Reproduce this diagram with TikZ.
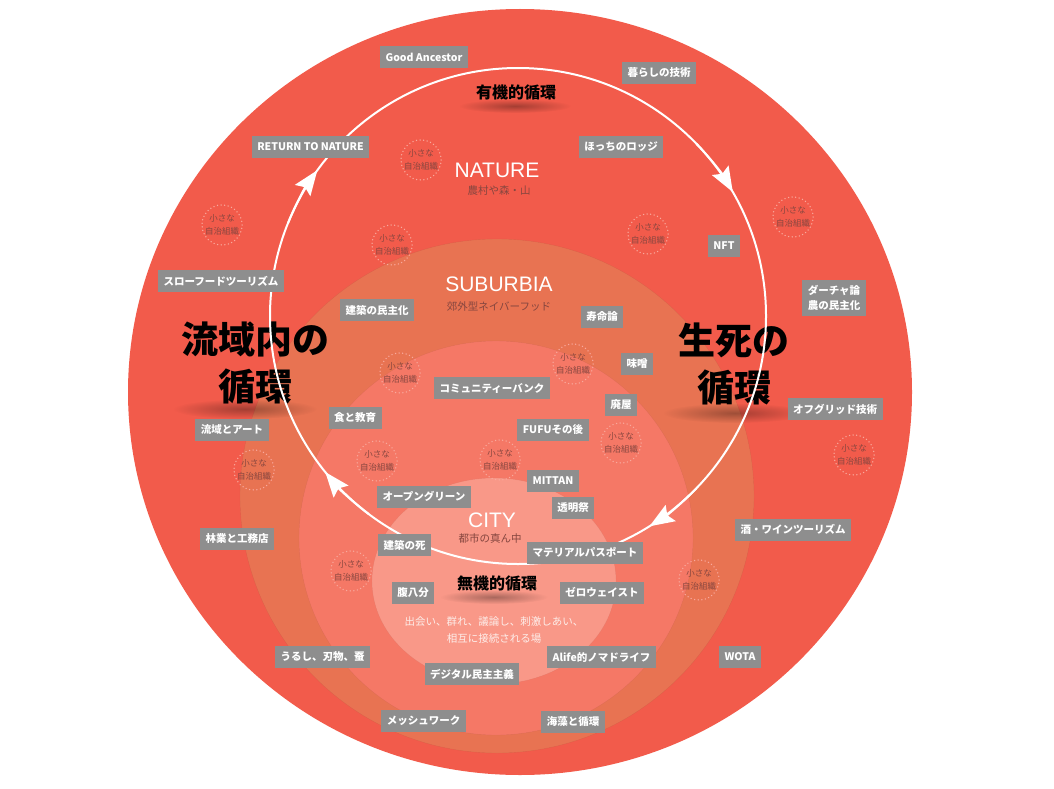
\documentclass[tikz,border=0pt]{standalone}
\usepackage{fontspec}
\setmainfont{Noto Sans CJK JP}
\newfontfamily\zonefont{Liberation Sans}
\usetikzlibrary{arrows.meta,fadings}

\definecolor{outerred}{HTML}{F25B4B}
\definecolor{suburbring}{HTML}{E87352}
\definecolor{innerring}{HTML}{F57866}
\definecolor{citycore}{HTML}{F99888}
\definecolor{tagfill}{HTML}{8E8E8E}
\definecolor{orgtext}{HTML}{86463F}
\definecolor{orgdot}{HTML}{F9A99D}
\definecolor{cityline}{HTML}{FDEDE9}

\tikzfading[name=softspot, inner color=transparent!30, outer color=transparent!100]

\tikzset{
  tag/.style = {fill=tagfill, text=white, font=\bfseries\fontsize{10.5}{15}\selectfont, inner xsep=5.5pt, inner ysep=5pt, minimum height=22pt, align=center},
  org/.style = {circle, draw=orgdot, line width=1.5pt, line cap=round, dash pattern=on 0pt off 3.6pt, minimum size=36pt, inner sep=0pt, text=orgtext, font=\fontsize{8.5}{13.5}\selectfont, align=center},
  zone/.style = {text=white, font=\zonefont\fontsize{21}{24}\selectfont},
  zonesub/.style = {text=orgtext, font=\fontsize{10.5}{12}\selectfont},
  cyclelabel/.style = {font=\bfseries\fontsize{16}{18}\selectfont},
  bigcycle/.style = {font=\bfseries\fontsize{37}{47}\selectfont, align=center},
  shadowspot/.style = {fill=black, opacity=.45, path fading=softspot},
  ringpath/.style = {draw=white, line width=2pt},
  ringtip/.style = {ringpath, -{Stealth[length=25pt, width=19pt, inset=4pt]}}
}

\begin{document}
\begin{tikzpicture}[x=1pt, y=-1pt]
  \useasboundingbox (0,0) rectangle (1054,789);

  % zones
  \fill[outerred] (520,392) ellipse[x radius=392, y radius=383];
  \fill[suburbring, draw=black, draw opacity=.06] (497,496) circle[radius=257];
  \fill[innerring, draw=black, draw opacity=.06] (496,538) circle[radius=197];
  \fill[citycore, draw=black, draw opacity=.05] (494,581) ellipse[x radius=122, y radius=103];

  % shadows under the cycle names
  \fill[shadowspot] (245,409) ellipse[x radius=72, y radius=10];
  \fill[shadowspot] (735,413) ellipse[x radius=72, y radius=10];
  \fill[shadowspot] (515,106) ellipse[x radius=56, y radius=7];
  \fill[shadowspot] (494,597) ellipse[x radius=54, y radius=7];

  \node[bigcycle] (watershed) at (255,363) {流域内の\\循環};
  \node[bigcycle] (lifedeath) at (734,364) {生死の\\循環};

  % the loop
  \coordinate (loopc) at (518,316);
  \draw[ringpath] (loopc) circle[radius=248];
  \draw[ringtip] (loopc) ++(202:248) arc[start angle=202, end angle=216, radius=248];
  \draw[ringtip] (loopc) ++(316:248) arc[start angle=316, end angle=330, radius=248];
  \draw[ringtip] (loopc) ++(44:248) arc[start angle=44, end angle=58, radius=248];
  \draw[ringtip] (loopc) ++(127:248) arc[start angle=127, end angle=141, radius=248];

  \node[cyclelabel] (organic) at (516,92) {有機的循環};
  \node[cyclelabel] (inorganic) at (497,583) {無機的循環};

  % zone names
  \node[zone] (nature) at (497,170) {NATURE};
  \node[zonesub] (naturesub) at (499,191) {農村や森・山};
  \node[zone] (suburbia) at (499,284) {SUBURBIA};
  \node[zonesub] (suburbiasub) at (499,306) {郊外型ネイバーフッド};
  \node[zone] (city) at (492,520) {CITY};
  \node[zonesub] (citysub) at (490,538) {都市の真ん中};
  \node[text=cityline, font=\fontsize{10.5}{17}\selectfont, align=center] (citynote) at (494,630)
    {出会い、群れ、議論し、刺激しあい、\\相互に接続される場};

  % projects
  \node[tag] (ancestor) at (424,57.5) {Good Ancestor};
  \node[tag] (kurashi) at (659,73) {暮らしの技術};
  \node[tag] (return) at (310.5,147) {RETURN TO NATURE};
  \node[tag] (hocchi) at (621,146.5) {ほっちのロッジ};
  \node[tag] (nft) at (724,246) {NFT};
  \node[tag] (slowfood) at (221,281) {スローフードツーリズム};
  \node[tag] (archdemo) at (377,310) {建築の民主化};
  \node[tag] (jumyo) at (602,317) {寿命論};
  \node[tag] (dacha) at (834,298) {ダーチャ論\\農の民主化};
  \node[tag] (miso) at (637,364) {味噌};
  \node[tag] (commbank) at (492,388) {コミュニティーバンク};
  \node[tag] (haioku) at (621,405) {廃屋};
  \node[tag] (offgrid) at (835,409) {オフグリッド技術};
  \node[tag] (food) at (355,418) {食と教育};
  \node[tag] (ryuiki) at (232,430) {流域とアート};
  \node[tag] (fufu) at (553,430) {FUFUその後};
  \node[tag] (mittan) at (553,481) {MITTAN};
  \node[tag] (opengreen) at (424,496.5) {オープングリーン};
  \node[tag] (tomei) at (573,508) {透明祭};
  \node[tag] (sake) at (793,529.5) {酒・ワインツーリズム};
  \node[tag] (ringyo) at (237,538.5) {林業と工務店};
  \node[tag] (archdeath) at (404.5,545) {建築の死};
  \node[tag] (material) at (585,552.5) {マテリアルパスポート};
  \node[tag] (harahachi) at (413,593) {腹八分};
  \node[tag] (zerowaste) at (602,592.5) {ゼロウェイスト};
  \node[tag] (urushi) at (322.5,656.5) {うるし、刃物、蚕};
  \node[tag] (alife) at (601.5,657) {Alife的ノマドライフ};
  \node[tag] (wota) at (740,657) {WOTA};
  \node[tag] (digital) at (472,674) {デジタル民主主義};
  \node[tag] (mesh) at (423.5,721) {メッシュワーク};
  \node[tag] (kaiso) at (573,722) {海藻と循環};

  % small self-governing groups
  \node[org] (org1) at (421,160) {小さな\\自治組織};
  \node[org] (org2) at (222,225) {小さな\\自治組織};
  \node[org] (org3) at (392,245) {小さな\\自治組織};
  \node[org] (org4) at (648,234) {小さな\\自治組織};
  \node[org] (org5) at (793,217) {小さな\\自治組織};
  \node[org] (org6) at (400,373) {小さな\\自治組織};
  \node[org] (org7) at (573,364) {小さな\\自治組織};
  \node[org] (org8) at (621,443) {小さな\\自治組織};
  \node[org] (org9) at (254,470) {小さな\\自治組織};
  \node[org] (org10) at (377,461) {小さな\\自治組織};
  \node[org] (org11) at (500,460) {小さな\\自治組織};
  \node[org] (org12) at (854,455) {小さな\\自治組織};
  \node[org] (org13) at (351,571) {小さな\\自治組織};
  \node[org] (org14) at (699,580) {小さな\\自治組織};
\end{tikzpicture}
\end{document}
